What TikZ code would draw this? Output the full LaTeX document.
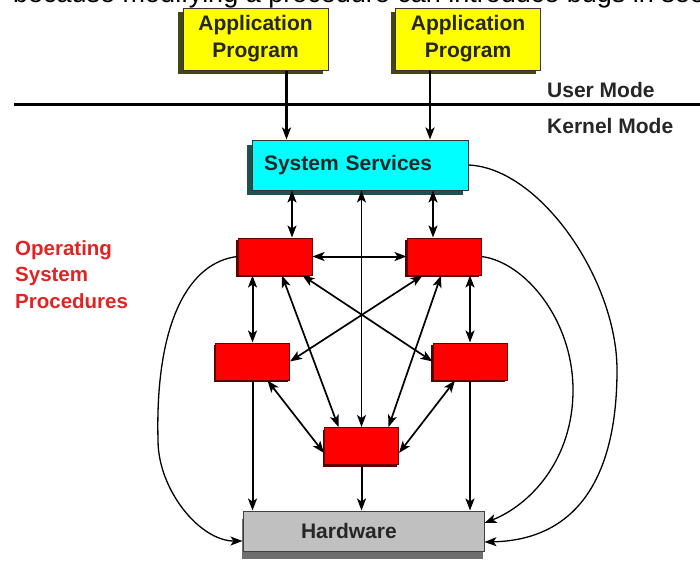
\documentclass[tikz,border=0pt]{standalone}
\usepackage{fontspec}
\setmainfont{Liberation Sans}
\usetikzlibrary{arrows.meta,shadows}
\definecolor{appyellow}{RGB}{255,255,0}
\definecolor{appshade}{RGB}{70,70,20}
\definecolor{svccyan}{RGB}{0,255,255}
\definecolor{svcshade}{RGB}{30,80,80}
\definecolor{procred}{RGB}{255,0,0}
\definecolor{procline}{RGB}{100,0,0}
\definecolor{procshade}{RGB}{90,0,0}
\definecolor{hwgray}{RGB}{192,192,192}
\definecolor{hwshade}{RGB}{110,110,110}
\definecolor{osred}{RGB}{225,35,35}
\newcommand{\boxfont}{\fontsize{21}{27}\selectfont\bfseries}

\begin{document}
\begin{tikzpicture}[x=1pt,y=-1pt,>={Stealth[length=12pt,width=9pt,inset=3pt]},
  app/.style={draw=black!80,line width=1pt,fill=appyellow,minimum width=145pt,minimum height=62pt,inner sep=0pt,align=center,font=\boxfont,text=black!85,drop shadow={shadow xshift=-5pt,shadow yshift=-4pt,fill=appshade,opacity=1}},
  svcbox/.style={draw=black!80,line width=1pt,fill=svccyan,minimum height=50pt,inner xsep=12pt,inner ysep=0pt,text width=192pt,align=left,font=\boxfont,text=black!85,drop shadow={shadow xshift=-5pt,shadow yshift=-5pt,fill=svcshade,opacity=1}},
  proc/.style={draw=procline,line width=1pt,fill=procred,minimum width=74pt,minimum height=37pt,inner sep=0pt,drop shadow={shadow xshift=-2pt,shadow yshift=-2pt,fill=procshade,opacity=1}},
  hwbox/.style={draw=black!75,line width=1pt,fill=hwgray,minimum height=40pt,inner xsep=58pt,inner ysep=0pt,text width=125pt,align=left,font=\boxfont,text=black!85,drop shadow={shadow xshift=-1pt,shadow yshift=-8pt,fill=hwshade,opacity=1}},
  mode/.style={anchor=base west,inner sep=0pt,font=\boxfont,text=black!85},
  heavy/.style={line width=2.8pt},
  link/.style={line width=2pt},
  diag/.style={line width=1.7pt},
  spine/.style={line width=1.5pt},
  swing/.style={line width=1.3pt,->}]
\useasboundingbox (0,0) rectangle (700,560);
\clip (0,0) rectangle (700,560);
%text cut at the top
\node[anchor=base west,inner sep=0pt,font=\fontsize{27}{30}\selectfont] (cut) at (13,2.5) {because modifying a procedure can introduce bugs in seemingly};
%user / kernel line
\draw[line width=3pt] (14,104) -- (700,104);
\node[mode] (user) at (547,97) {User Mode};
\node[mode] (kernel) at (547,133) {Kernel Mode};
%boxes
\node[app] (appL) at (255.5,39) {Application\\Program};
\node[app] (appR) at (468,39) {Application\\Program};
\node[svcbox] (svc) at (360,165) {System Services};
\foreach\n/\x/\y in {pTL/275/256.5,pTR/444/256.5,pML/252.5/361.5,pMR/470/361.5,pC/361.5/446} {
  \node[proc] (\n) at (\x,\y) {};
}
\node[hwbox] (hw) at (363.5,531) {Hardware};
\node[anchor=north west,inner sep=0pt,align=left,font=\fontsize{20.5}{26.5}\selectfont\bfseries,text=osred] (osp) at (15,240) {Operating\\System\\Procedures};
%calls into the kernel
\draw[heavy,->] ([xshift=31pt]appL.south) -- ([xshift=31pt]appL.south |- svc.north);
\draw[heavy,->] ([xshift=-38pt]appR.south) -- ([xshift=-38pt]appR.south |- svc.north);
%short links
\draw[link,<->] ([xshift=17pt]pTL.north) -- ([xshift=17pt]pTL.north |- svc.south);
\draw[link,<->] ([xshift=-11pt]pTR.north) -- ([xshift=-11pt]pTR.north |- svc.south);
\draw[link,<->] (pTL.east) -- (pTR.west);
\draw[link,<->] (pML.north |- pTL.south) -- (pML.north);
\draw[link,<->] (pMR.north |- pTR.south) -- (pMR.north);
\draw[spine,<->] (pC.north |- svc.south) -- (pC.north);
%crossing links
\draw[diag,<->] ([xshift=-10pt]pTL.south east) -- (pMR.west);
\draw[diag,<->] ([xshift=16pt]pTR.south west) -- (pML.east);
\draw[diag,<->] ([xshift=7pt]pTL.south) -- ([xshift=-23pt]pC.north);
\draw[diag,<->] ([xshift=-3pt]pTR.south) -- ([xshift=27pt]pC.north);
\draw[diag,<->] ([xshift=15pt]pML.south) -- ([yshift=-7pt]pC.west);
\draw[diag,<->] ([xshift=-15pt]pMR.south) -- ([yshift=-7pt]pC.east);
%down to the hardware
\foreach\n in {pML,pC,pMR} {
  \draw[link,->] (\n.south) -- (\n.south |- hw.north);
}
%curves
\draw[swing] (pTL.west) .. controls (190,262) and (155,320) .. (158,440) .. controls (158,490) and (200,541) .. ([yshift=-10pt]hw.west);
\draw[swing] (pTR.east) .. controls (525,262) and (573,320) .. (573,390) .. controls (573,460) and (530,505) .. ([yshift=8pt]hw.east);
\draw[swing] (svc.east) .. controls (540,168) and (617,280) .. (617,370) .. controls (617,480) and (575,540) .. ([yshift=-11pt]hw.east);
\end{tikzpicture}
\end{document}
